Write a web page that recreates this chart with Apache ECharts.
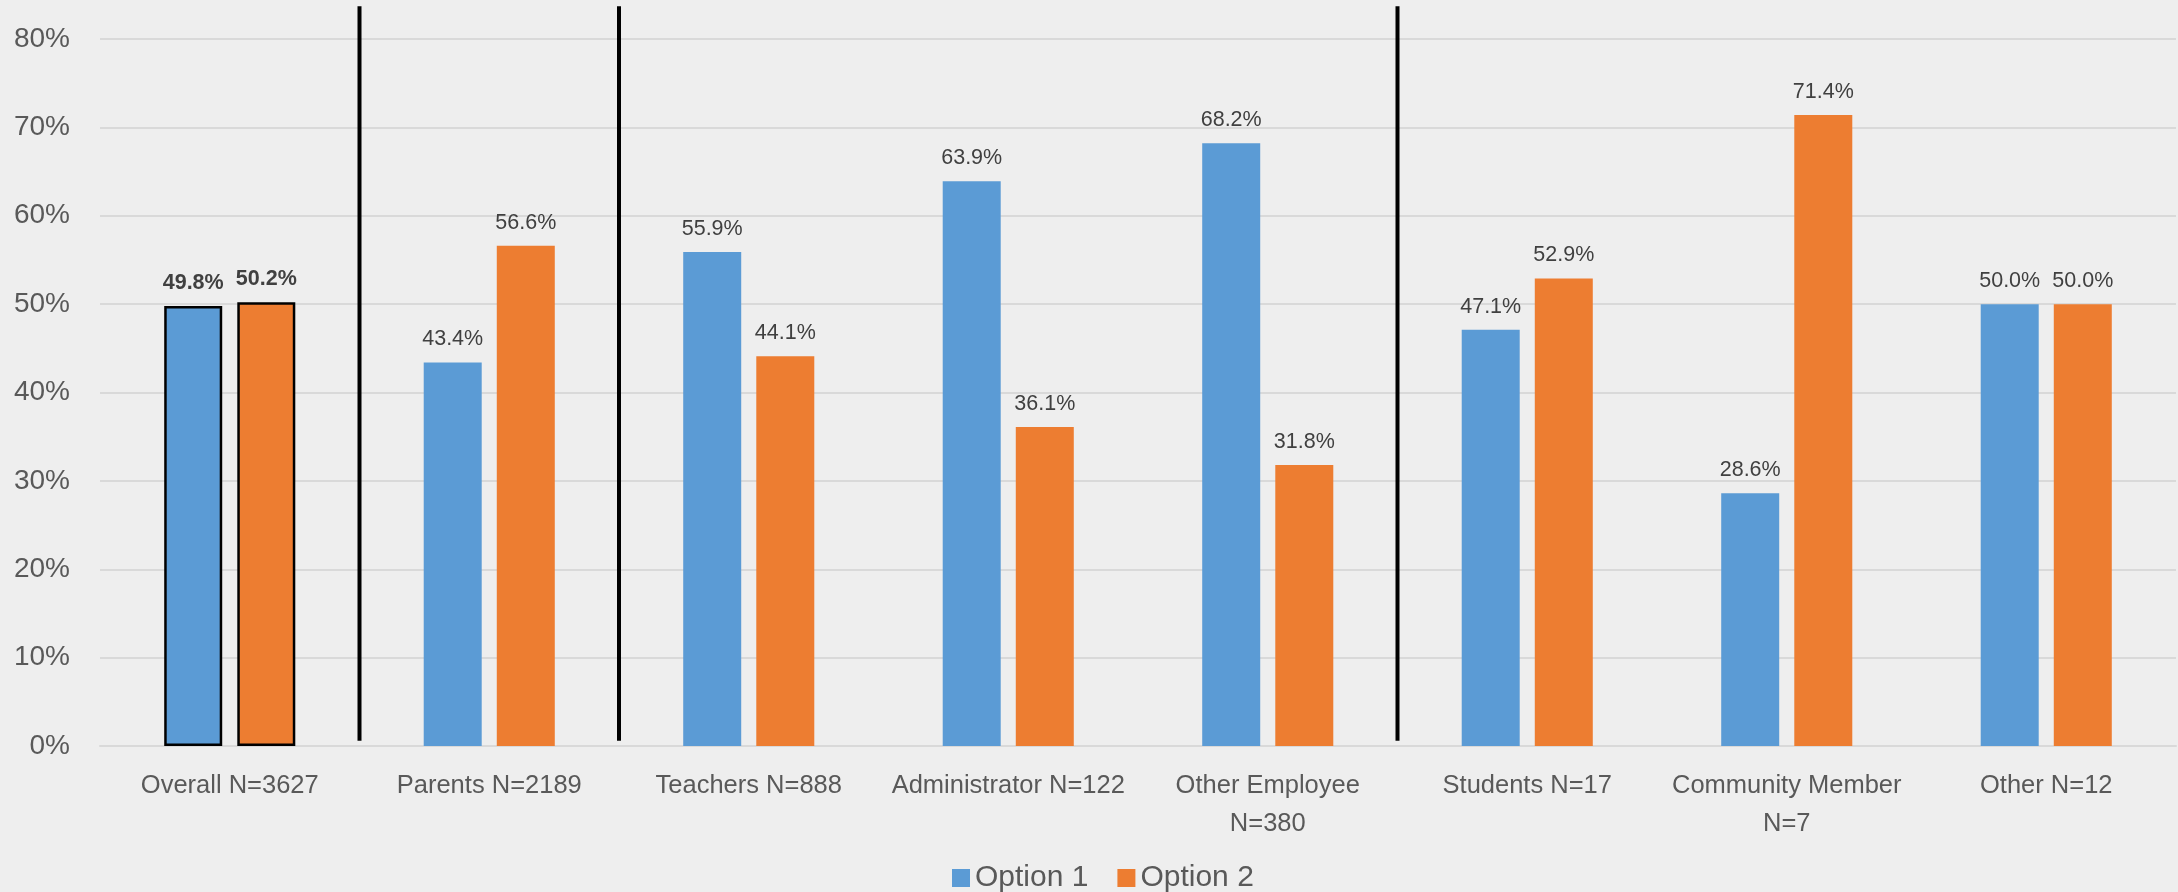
<!DOCTYPE html>
<html>
<head>
<meta charset="utf-8">
<script src="https://cdn.jsdelivr.net/npm/echarts@6/dist/echarts.min.js"></script>
<style>
html,body{margin:0;padding:0;background:#eeeeee;}
#chart{width:2178px;height:892px;}
</style>
</head>
<body>
<div id="chart"></div>
<script>
// ---- data ----
var categories = ['Overall N=3627', 'Parents N=2189', 'Teachers N=888', 'Administrator N=122',
                  'Other Employee\nN=380', 'Students N=17', 'Community Member\nN=7', 'Other N=12'];
var option1 = [49.8, 43.4, 55.9, 63.9, 68.2, 47.1, 28.6, 50.0];
var option2 = [50.2, 56.6, 44.1, 36.1, 31.8, 52.9, 71.4, 50.0];
var seriesNames = ['Option 1', 'Option 2'];
var yTicks = [0, 10, 20, 30, 40, 50, 60, 70, 80];
var separatorsAfter = [1, 2, 5]; // vertical divider lines after these category counts

var FONT = '"Liberation Sans", sans-serif';
var chart = echarts.init(document.getElementById('chart'), null, {renderer: 'canvas'});

function styled(arr) {
  return arr.map(function (v, i) {
    if (i === 0) {
      return {
        value: v,
        itemStyle: {borderColor: '#000000', borderWidth: 2.5},
        label: {fontWeight: 'bold'}
      };
    }
    return v;
  });
}

var barLabel = {
  show: true,
  position: 'top',
  distance: 12,
  color: '#404040',
  fontSize: 21.5,
  fontFamily: FONT,
  formatter: function (p) { return p.value.toFixed(1) + '%'; }
};

var option = {
  backgroundColor: '#eeeeee',
  animation: false,
  textStyle: {fontFamily: FONT},
  legend: {
    data: seriesNames,
    left: 947,
    top: 858,
    itemWidth: 18,
    itemHeight: 18,
    itemGap: 29,
    icon: 'rect',
    textStyle: {fontSize: 30, color: '#595959', fontFamily: FONT}
  },
  grid: {left: 100, right: 2, top: 39, bottom: 146, containLabel: false},
  xAxis: [{
    type: 'category',
    data: categories,
    axisLine: {show: true, lineStyle: {color: '#d9d9d9', width: 2}},
    axisTick: {show: false},
    axisLabel: {fontSize: 25.5, color: '#595959', fontFamily: FONT, margin: 21, lineHeight: 38, interval: 0}
  }, {
    type: 'value',
    min: 0,
    max: categories.length,
    show: false
  }],
  yAxis: {
    type: 'value',
    min: yTicks[0],
    max: yTicks[yTicks.length - 1],
    interval: yTicks[1] - yTicks[0],
    axisLine: {show: false},
    axisTick: {show: false},
    splitLine: {lineStyle: {color: '#d9d9d9', width: 2}},
    axisLabel: {fontSize: 28, color: '#595959', fontFamily: FONT, margin: 30,
                formatter: function (v) { return v + '%'; }}
  },
  series: [{
    name: seriesNames[0],
    type: 'bar',
    data: styled(option1),
    barWidth: 58,
    barGap: '26%',
    itemStyle: {color: '#5b9bd5'},
    label: barLabel
  }, {
    name: seriesNames[1],
    type: 'bar',
    data: styled(option2),
    barWidth: 58,
    barGap: '26%',
    itemStyle: {color: '#ed7d31'},
    label: barLabel
  }, {
    type: 'custom',
    xAxisIndex: 1,
    yAxisIndex: 0,
    clip: false,
    silent: true,
    data: separatorsAfter.map(function (s) { return [s]; }),
    renderItem: function (params, api) {
      var x = api.value(0);
      var p1 = api.coord([x, 0.6]);
      var p2 = api.coord([x, 83.7]);
      return {
        type: 'line',
        shape: {x1: p1[0], y1: p1[1], x2: p2[0], y2: p2[1]},
        style: {stroke: '#000000', lineWidth: 4}
      };
    }
  }]
};
chart.setOption(option);
</script>
</body>
</html>
